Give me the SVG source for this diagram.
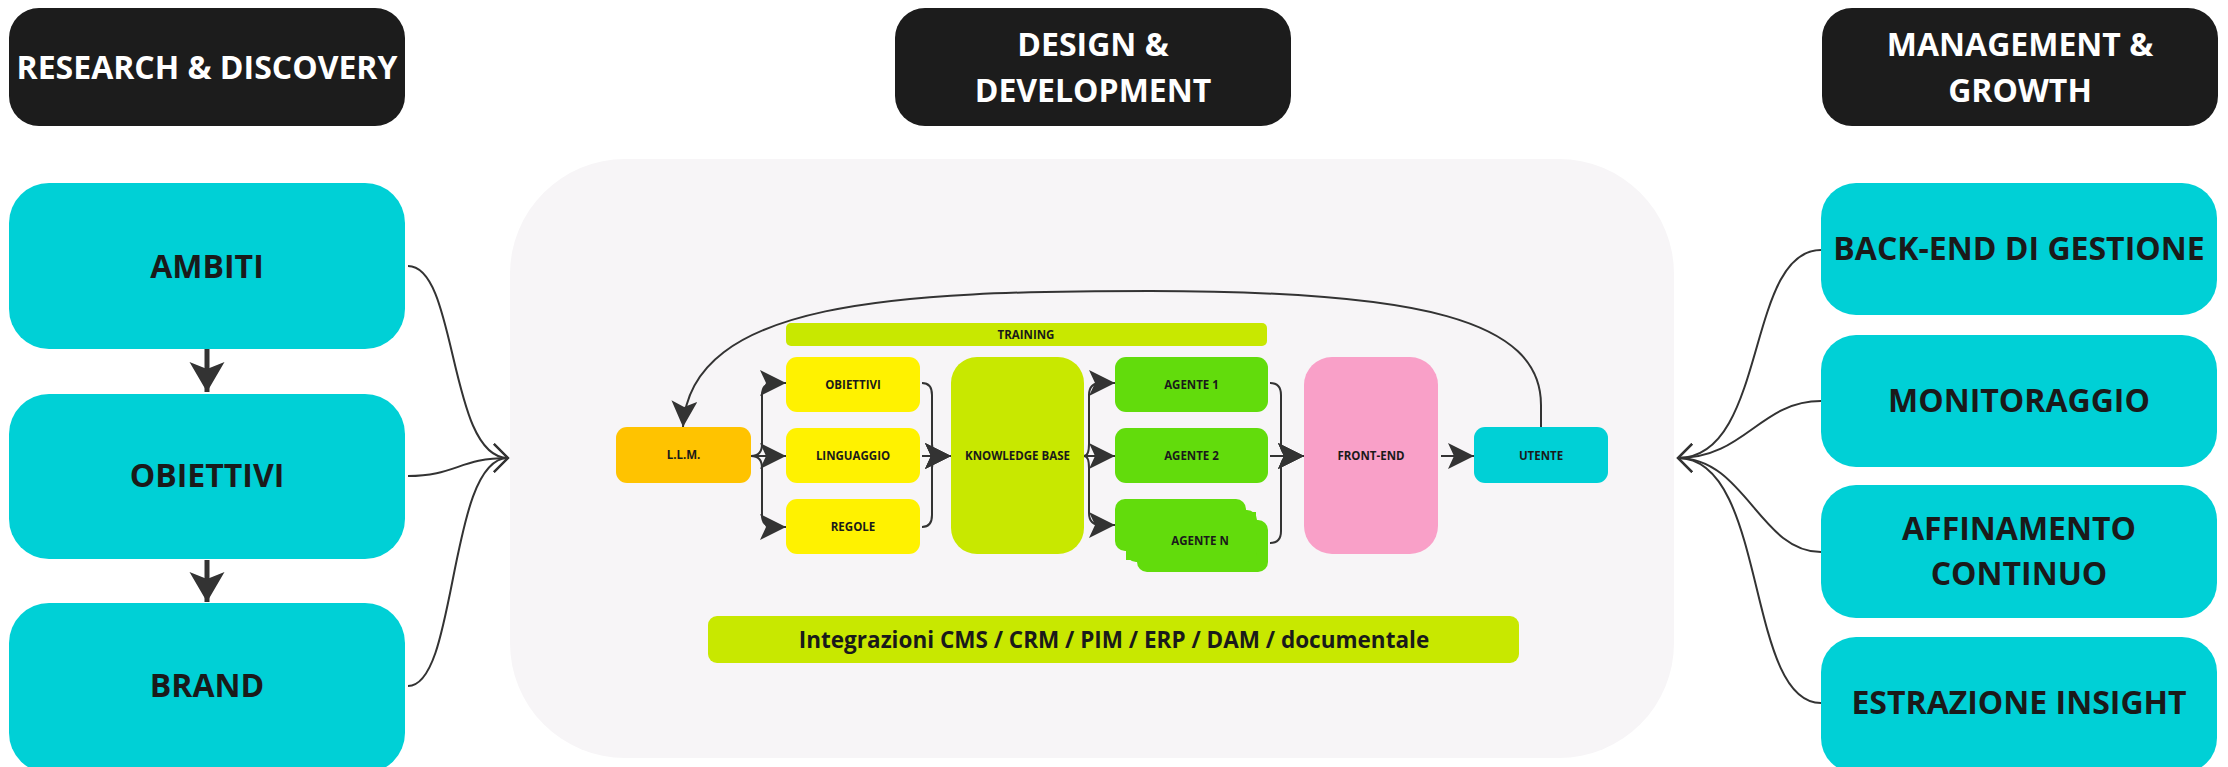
<svg xmlns="http://www.w3.org/2000/svg" width="2228" height="767" viewBox="0 0 2228 767">
<style>
  .t{font-family:"Open Sans","Liberation Sans",sans-serif;font-weight:700;text-anchor:middle}
  .h{font-size:32px;fill:#ffffff}
  .b{font-size:32px;fill:#1a1a1a}
  .s{font-size:11.5px;fill:#1a1a1a}
  .i{font-size:22.5px;fill:#1a1a1a}
  .hdr{fill:#1c1c1c}
  .cy{fill:#00d0d6}
  .yl{fill:#fff200}
  .lm{fill:#c8e800}
  .gr{fill:#62dc0c}
  .conn path{fill:none;stroke:#333333;stroke-width:2}
  .conn path.thick{stroke-width:5}
</style>
<defs>
  <marker id="big" markerUnits="userSpaceOnUse" markerWidth="32" markerHeight="36" refX="30" refY="17.5" orient="auto">
    <path d="M0,0 L30,17.5 L0,35 L7,17.5 Z" fill="#333333"/>
  </marker>
  <marker id="mid" markerUnits="userSpaceOnUse" markerWidth="28" markerHeight="28" refX="26" refY="13" orient="auto">
    <path d="M0,0 L26,13 L0,26 L6,13 Z" fill="#333333"/>
  </marker>
  <marker id="open" markerUnits="userSpaceOnUse" markerWidth="18" markerHeight="32" refX="15" refY="15" orient="auto">
    <path d="M1,1 L15,15 L1,29" fill="none" stroke="#333333" stroke-width="2"/>
  </marker>
</defs>
<rect width="2228" height="767" fill="#ffffff"/>

<!-- central panel -->
<rect id="panel" x="510" y="159" width="1164" height="599" rx="115" fill="#f7f5f7"/>

<!-- headers -->
<g id="hdr-research">
  <rect class="hdr" x="9" y="8" width="396" height="118" rx="30"/>
  <text class="t h" x="207" y="79">RESEARCH &amp; DISCOVERY</text>
</g>
<g id="hdr-design">
  <rect class="hdr" x="895" y="8" width="396" height="118" rx="30"/>
  <text class="t h" x="1093" y="56">DESIGN &amp;</text>
  <text class="t h" x="1093" y="102">DEVELOPMENT</text>
</g>
<g id="hdr-management">
  <rect class="hdr" x="1822" y="8" width="396" height="118" rx="30"/>
  <text class="t h" x="2020" y="56">MANAGEMENT &amp;</text>
  <text class="t h" x="2020" y="102">GROWTH</text>
</g>

<!-- left column -->
<g id="ambiti">
  <rect class="cy" x="9" y="183" width="396" height="166" rx="40"/>
  <text class="t b" x="207" y="278">AMBITI</text>
</g>
<g id="obiettivi">
  <rect class="cy" x="9" y="394" width="396" height="165" rx="40"/>
  <text class="t b" x="207" y="487">OBIETTIVI</text>
</g>
<g id="brand">
  <rect class="cy" x="9" y="603" width="396" height="170" rx="40"/>
  <text class="t b" x="207" y="697">BRAND</text>
</g>

<!-- right column -->
<g id="backend">
  <rect class="cy" x="1821" y="183" width="396" height="132" rx="35"/>
  <text class="t b" x="2019" y="260">BACK-END DI GESTIONE</text>
</g>
<g id="monitoraggio">
  <rect class="cy" x="1821" y="335" width="396" height="132" rx="35"/>
  <text class="t b" x="2019" y="412">MONITORAGGIO</text>
</g>
<g id="affinamento">
  <rect class="cy" x="1821" y="485" width="396" height="133" rx="35"/>
  <text class="t b" x="2019" y="540">AFFINAMENTO</text>
  <text class="t b" x="2019" y="585">CONTINUO</text>
</g>
<g id="estrazione">
  <rect class="cy" x="1821" y="637" width="396" height="136" rx="35"/>
  <text class="t b" x="2019" y="714">ESTRAZIONE INSIGHT</text>
</g>

<!-- central nodes -->
<g id="training">
  <rect class="lm" x="786" y="323" width="481" height="23" rx="5"/>
  <text class="t s" x="1026" y="338.5">TRAINING</text>
</g>
<g id="llm">
  <rect x="616" y="427" width="135" height="56" rx="11" fill="#ffc300"/>
  <text class="t s" x="683.5" y="459">L.L.M.</text>
</g>
<g id="c-obiettivi">
  <rect class="yl" x="786" y="357" width="134" height="55" rx="11"/>
  <text class="t s" x="853" y="388.5">OBIETTIVI</text>
</g>
<g id="c-linguaggio">
  <rect class="yl" x="786" y="428" width="134" height="55" rx="11"/>
  <text class="t s" x="853" y="459.5">LINGUAGGIO</text>
</g>
<g id="c-regole">
  <rect class="yl" x="786" y="499" width="134" height="55" rx="11"/>
  <text class="t s" x="853" y="530.5">REGOLE</text>
</g>
<g id="knowledge">
  <rect class="lm" x="951" y="357" width="133" height="197" rx="26"/>
  <text class="t s" x="1017.5" y="460">KNOWLEDGE BASE</text>
</g>
<g id="agente1">
  <rect class="gr" x="1115" y="357" width="153" height="55" rx="11"/>
  <text class="t s" x="1191.5" y="388.5">AGENTE 1</text>
</g>
<g id="agente2">
  <rect class="gr" x="1115" y="428" width="153" height="55" rx="11"/>
  <text class="t s" x="1191.5" y="459.5">AGENTE 2</text>
</g>
<g id="agenten">
  <rect class="gr" x="1137" y="520" width="131" height="52" rx="10"/>
  <rect class="gr" x="1126" y="510" width="131" height="52" rx="10"/>
  <rect class="gr" x="1115" y="499" width="131" height="52" rx="10"/>
  <rect class="gr" x="1126" y="512" width="130" height="48"/>
  <text class="t s" x="1200" y="545">AGENTE N</text>
</g>
<g id="frontend">
  <rect x="1304" y="357" width="134" height="197" rx="28" fill="#f9a0c8"/>
  <text class="t s" x="1371" y="460">FRONT-END</text>
</g>
<g id="utente">
  <rect class="cy" x="1474" y="427" width="134" height="56" rx="11"/>
  <text class="t s" x="1541" y="459.5">UTENTE</text>
</g>
<g id="integrazioni">
  <rect class="lm" x="708" y="616" width="811" height="47" rx="9"/>
  <text class="t i" x="1114" y="647.5">Integrazioni CMS / CRM / PIM / ERP / DAM / documentale</text>
</g>

<!-- connectors -->
<g id="connectors" class="conn">
  <path class="thick" d="M207,349 L207,392" marker-end="url(#big)"/>
  <path class="thick" d="M207,560 L207,602" marker-end="url(#big)"/>

  <path d="M408,266 C458,266 448,458 508,458" marker-end="url(#open)"/>
  <path d="M408,476 C455,476 460,458 508,458" marker-end="url(#open)"/>
  <path d="M408,686 C458,686 448,458 508,458" marker-end="url(#open)"/>

  <path d="M1821,250 C1745,250 1768,458 1678,458" marker-end="url(#open)"/>
  <path d="M1821,401 C1760,401 1745,458 1678,458" marker-end="url(#open)"/>
  <path d="M1821,552 C1760,552 1745,458 1678,458" marker-end="url(#open)"/>
  <path d="M1821,703 C1745,703 1768,458 1678,458" marker-end="url(#open)"/>

  <path d="M751,456 Q762,456 762,444 L762,395 Q762,383 774,383 L786,383" marker-end="url(#mid)"/>
  <path d="M751,456 L786,456" marker-end="url(#mid)"/>
  <path d="M751,456 Q762,456 762,468 L762,515 Q762,527 774,527 L786,527" marker-end="url(#mid)"/>

  <path d="M922,383 Q932,383 932,395 L932,444 Q932,456 942,456 L951,456" marker-end="url(#mid)"/>
  <path d="M922,456 L951,456" marker-end="url(#mid)"/>
  <path d="M922,527 Q932,527 932,515 L932,468 Q932,456 942,456 L951,456" marker-end="url(#mid)"/>

  <path d="M1084,456 Q1089,456 1089,444 L1089,395 Q1089,383 1101,383 L1115,383" marker-end="url(#mid)"/>
  <path d="M1084,456 L1115,456" marker-end="url(#mid)"/>
  <path d="M1084,456 Q1089,456 1089,468 L1089,513 Q1089,525 1101,525 L1115,525" marker-end="url(#mid)"/>

  <path d="M1270,383 Q1281,383 1281,395 L1281,444 Q1281,456 1292,456 L1304,456" marker-end="url(#mid)"/>
  <path d="M1270,456 L1304,456" marker-end="url(#mid)"/>
  <path d="M1270,543 Q1281,543 1281,531 L1281,468 Q1281,456 1292,456 L1304,456" marker-end="url(#mid)"/>

  <path d="M1441,456 L1474,456" marker-end="url(#mid)"/>

  <path d="M1541,427 L1541,405 C1541,320 1420,291 1150,291 C900,291 690,300 683,427" marker-end="url(#mid)"/>
</g>
</svg>
